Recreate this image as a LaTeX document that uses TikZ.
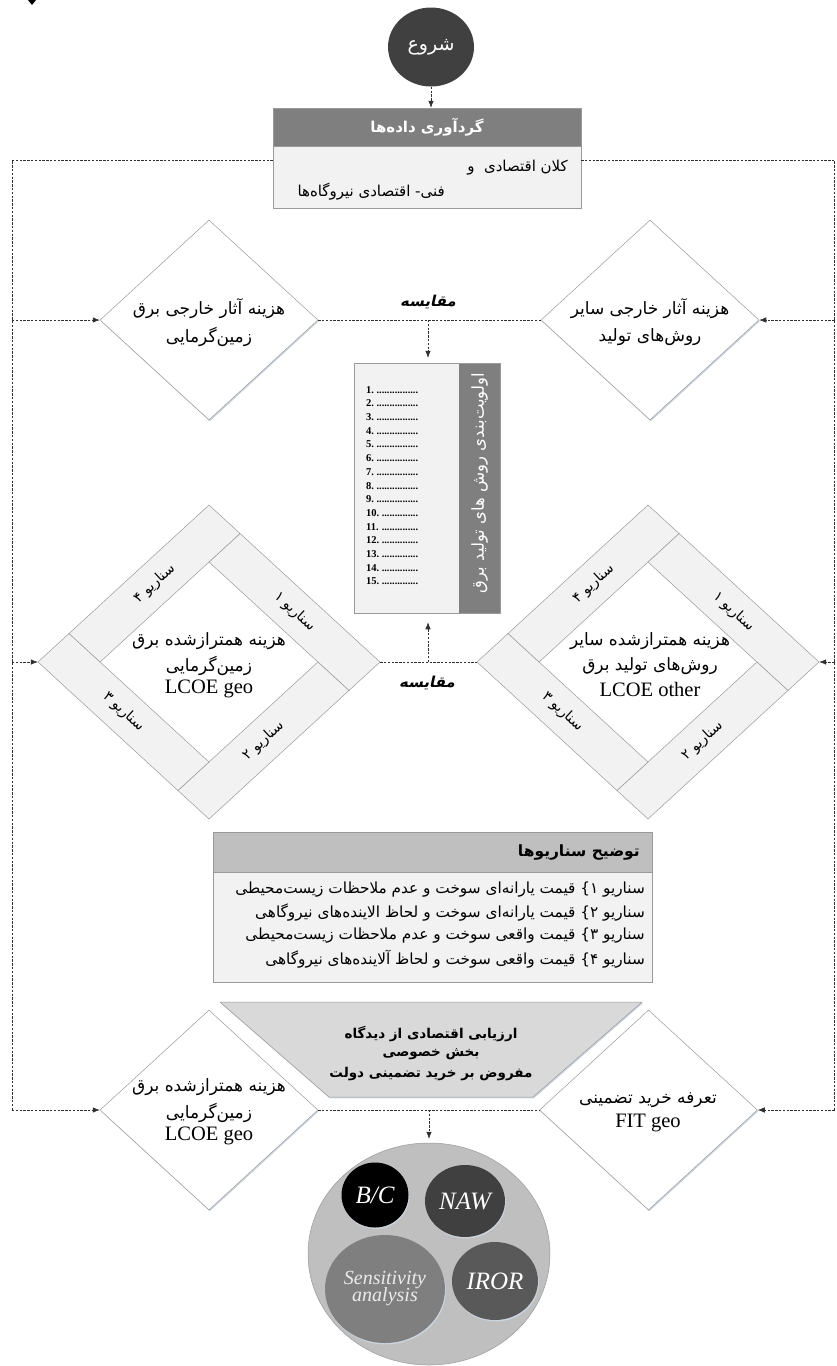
\documentclass[tikz,border=0pt]{standalone}
\usepackage{fontspec}
\setmainfont{Liberation Serif}
\newfontfamily\persfont[Script=Arabic]{DejaVu Sans}
\TeXXeTstate=1
\usetikzlibrary{arrows.meta,shapes.geometric,shadows}
\definecolor{cStart}{HTML}{404040}
\definecolor{cHead}{HTML}{7F7F7F}
\definecolor{cBody}{HTML}{F2F2F2}
\definecolor{cHeadB}{HTML}{BFBFBF}
\definecolor{cTrap}{HTML}{D9D9D9}
\definecolor{cEdge}{HTML}{9A9A9A}
\definecolor{cShadow}{HTML}{CCD5E0}
\definecolor{cLine}{HTML}{303030}
\newcommand\fr[1]{{\persfont\beginR #1\endR}}
\newcommand\fsz[1]{\fontsize{#1}{#1}\selectfont}
\newcommand\listitem[1]{\hbox to 52pt{\textbf{#1}\,\leaders\hbox to 2.6pt{\hss\textbf{.}\hss}\hfill}}
\newcommand\pinwheel[3]{%
 \begin{scope}[shift={(#1,#2)}, x=171pt, y=157pt]
  \path[strip] (0,0.637) -- (0.1815,0.8185) -- (1,0) -- (0.8185,-0.1815) -- (0.637,0) -- cycle;
  \path[strip] (0.637,0) -- (0.8185,-0.1815) -- (0,-1) -- (-0.1815,-0.8185) -- (0,-0.637) -- cycle;
  \path[strip] (0,-0.637) -- (-0.1815,-0.8185) -- (-1,0) -- (-0.8185,0.1815) -- (-0.637,0) -- cycle;
  \path[strip] (-0.637,0) -- (-0.8185,0.1815) -- (0,1) -- (0.1815,0.8185) -- (0,0.637) -- cycle;
  \node[striplab, rotate=-42.6] (#3s1) at (0.5,0.3185) {\fr{سناریو ۱}};
  \node[striplab, rotate=42.6] (#3s2) at (0.3185,-0.5) {\fr{سناریو ۲}};
  \node[striplab, rotate=-42.6] (#3s3) at (-0.5,-0.3185) {\fr{سناریو ۳}};
  \node[striplab, rotate=42.6] (#3s4) at (-0.3185,0.5) {\fr{سناریو ۴}};
 \end{scope}}
\begin{document}
\begin{tikzpicture}[x=1pt,y=-1pt,
  dl/.style={draw=cLine, line width=0.6pt, dash pattern=on 2.4pt off 1.4pt},
  dla/.style={dl, -{Latex[length=7pt,width=5.5pt]}},
  shad/.style={drop shadow={shadow xshift=0.8pt, shadow yshift=-1.4pt, fill=cShadow, opacity=1}},
  dia/.style={diamond, draw=cEdge, line width=0.5pt, fill=white, inner sep=0pt, minimum width=218pt, minimum height=200pt, shad},
  strip/.style={fill=cBody, draw=cEdge, line width=0.5pt},
  striplab/.style={font=\fsz{14}, inner sep=0pt},
  ptxt/.style={font=\fsz{17}, inner sep=0pt},
  ltxt/.style={font=\fsz{20.5}, inner sep=0pt},
  cmp/.style={font=\fsz{15}\bfseries, inner sep=0pt, xslant=0.22},
  box/.style={rectangle, draw=cEdge, line width=0.5pt, inner sep=0pt},
  metric/.style={ellipse, inner sep=0pt, text=white, font=\fsz{25}\itshape, shad}
]
\useasboundingbox (0,0) rectangle (836,1366);
% tiny arrow fragment at top-left
\fill[black] (28,0) -- (36,0) -- (32,5) -- cycle;

% start
\node[ellipse, fill=cStart, minimum width=86pt, minimum height=79pt, inner sep=0pt, text=white, font=\fsz{19}] (start) at (431,47) {\fr{شروع}};

% data box
\node[box, fill=cBody, minimum width=308pt, minimum height=62pt, shad] (db) at (427,177) {};
\node[box, fill=cHead, minimum width=308pt, minimum height=38pt, text=white, font=\fsz{15}\bfseries] (dh) at (427,127) {\fr{گردآوری داده‌ها}};
\node[ptxt, font=\fsz{15}, anchor=east] (db1) at (568,168) {\fr{کلان اقتصادی\ \ و}};
\node[ptxt, font=\fsz{15}, anchor=east] (db2) at (445,192) {\fr{فنی- اقتصادی نیروگاه‌ها}};
\draw[dla] (start.south) -- (start.south |- dh.north);

% outer dashed frame lines
\coordinate (LT) at (12,160);
\coordinate (RT) at (834.5,160);
\coordinate (LB) at (12,1110);
\coordinate (RB) at (834.5,1110);
\draw[dl] (db.west |- LT) -- (LT) -- (LB);
\draw[dl] (db.east |- RT) -- (RT) -- (RB);

% top diamonds
\node[dia] (d1) at (209,320) {};
\node[ptxt] (d1a) at (209,309) {\fr{هزینه آثار خارجی برق}};
\node[ptxt] (d1b) at (209,337) {\fr{زمین‌گرمایی}};
\node[dia] (d2) at (650,320) {};
\node[ptxt] (d2a) at (650,309) {\fr{هزینه آثار خارجی سایر}};
\node[ptxt] (d2b) at (650,337) {\fr{روش‌های تولید}};
\draw[dla] (LT |- d1.west) -- (d1.west);
\draw[dla] (RT |- d2.east) -- (d2.east);
\draw[dl] (d1.east) -- (d2.west);
\coordinate (cmpT) at (428,320);
\node[cmp] (cmpTl) at (429,302) {\fr{مقایسه}};

% priority list
\node[box, fill=cBody, minimum width=146pt, minimum height=250pt, shad] (lst) at (427,488) {};
\fill[cHead] (459,363) rectangle (500,613);
\draw[cEdge, line width=0.5pt] (lst.north west) rectangle (lst.south east);
\node[rotate=90, text=white, font=\fsz{16.5}, inner sep=0pt] (lstT) at (479.5,483) {\fr{اولویت‌بندی روش های تولید برق}};
\node[anchor=north west, inner sep=0pt, font=\fontsize{10.5}{13.7}\selectfont, align=left] (items) at (366,386) {%
\listitem{1.}\\ \listitem{2.}\\ \listitem{3.}\\ \listitem{4.}\\ \listitem{5.}\\ \listitem{6.}\\ \listitem{7.}\\ \listitem{8.}\\ \listitem{9.}\\ \listitem{10.}\\ \listitem{11.}\\ \listitem{12.}\\ \listitem{13.}\\ \listitem{14.}\\ \listitem{15.}};
\draw[dla, shorten >=5pt] (cmpT) -- (cmpT |- lst.north);

% pinwheel frames
\node[diamond, minimum width=342pt, minimum height=314pt, inner sep=0pt] (fL) at (209,662) {};
\pinwheel{209}{662}{fL}
\node[ptxt] (fLa) at (209,641) {\fr{هزینه همترازشده برق}};
\node[ptxt] (fLb) at (209,666) {\fr{زمین‌گرمایی}};
\node[ltxt] (fLc) at (209,689) {LCOE geo};
\node[diamond, minimum width=342pt, minimum height=314pt, inner sep=0pt] (fR) at (648,662) {};
\pinwheel{648}{662}{fR}
\node[ptxt] (fRa) at (650,641) {\fr{هزینه همترازشده سایر}};
\node[ptxt] (fRb) at (650,666) {\fr{روش‌های تولید برق}};
\node[ltxt] (fRc) at (650,689) {LCOE other};
\draw[dla] (LT |- fL.west) -- (fL.west);
\draw[dla] (RT |- fR.east) -- (fR.east);
\draw[dl] (fL.east) -- (fR.west);
\coordinate (cmpB) at (428,662);
\draw[dla, shorten >=9pt] (cmpB) -- (cmpB |- lst.south);
\node[cmp] (cmpBl) at (428,683) {\fr{مقایسه}};

% scenario description
\node[box, fill=cBody, minimum width=439pt, minimum height=110pt, shad] (sc) at (432.5,927) {};
\node[box, fill=cHeadB, minimum width=439pt, minimum height=40pt] (sch) at (432.5,852) {};
\node[ptxt, font=\fsz{15.5}\bfseries, anchor=east] (scht) at (640,852) {\fr{توضیح سناریوها}};
\node[ptxt, font=\fsz{15.3}, anchor=east] (sc1) at (645,890) {\fr{سناریو ۱\} قیمت یارانه‌ای سوخت و عدم ملاحظات زیست‌محیطی}};
\node[ptxt, font=\fsz{15.3}, anchor=east] (sc2) at (645,913) {\fr{سناریو ۲\} قیمت یارانه‌ای سوخت و لحاظ الاینده‌های نیروگاهی}};
\node[ptxt, font=\fsz{15.3}, anchor=east] (sc3) at (645,936) {\fr{سناریو ۳\} قیمت واقعی سوخت و عدم ملاحظات زیست‌محیطی}};
\node[ptxt, font=\fsz{15.3}, anchor=east] (sc4) at (645,959) {\fr{سناریو ۴\} قیمت واقعی سوخت و لحاظ آلاینده‌های نیروگاهی}};

% economic evaluation trapezoid
\path[fill=cTrap, draw=cEdge, line width=0.5pt, shad] (220,1002) -- (642,1002) -- (533,1097) -- (329,1097) -- cycle;
\node[ptxt, font=\fsz{13.5}\bfseries] (ev1) at (431,1034) {\fr{ارزیابی اقتصادی از دیدگاه}};
\node[ptxt, font=\fsz{13.5}\bfseries] (ev2) at (431,1054) {\fr{بخش خصوصی}};
\node[ptxt, font=\fsz{13.5}\bfseries] (ev3) at (431,1074) {\fr{مفروض بر خرید تضمینی دولت}};

% bottom diamonds
\node[dia] (d5) at (209,1110) {};
\node[ptxt] (d5a) at (209,1087) {\fr{هزینه همترازشده برق}};
\node[ptxt] (d5b) at (209,1113) {\fr{زمین‌گرمایی}};
\node[ltxt] (d5c) at (209,1136) {LCOE geo};
\node[dia] (d6) at (648.5,1110) {};
\node[ptxt] (d6a) at (648,1100) {\fr{تعرفه خرید تضمینی}};
\node[ltxt] (d6b) at (648,1123) {FIT geo};
\draw[dla] (LB) -- (d5.west);
\draw[dla] (RB) -- (d6.east);
\draw[dl] (d5.east) -- (d6.west);

% result circle
\node[ellipse, fill=cHeadB, draw=cEdge, line width=0.5pt, minimum width=242pt, minimum height=222pt, inner sep=0pt] (res) at (429,1254) {};
\coordinate (cmpC) at (429,1110);
\draw[dla, shorten >=4pt] (cmpC) -- (cmpC |- res.north);
\node[metric, fill=black, minimum width=67pt, minimum height=65pt] (bc) at (375,1195) {B/C};
\node[metric, fill=cStart, minimum width=80pt, minimum height=72pt] (naw) at (465,1201) {NAW};
\node[metric, fill=cHead, minimum width=120pt, minimum height=108pt, font=\fsz{20}\itshape, text=white!92!black, align=center] (sens) at (385,1289) {Sensitivity\\[-3pt]analysis};
\node[metric, fill=black!65, minimum width=86pt, minimum height=78pt] (iror) at (495,1281) {IROR};
\end{tikzpicture}
\end{document}
